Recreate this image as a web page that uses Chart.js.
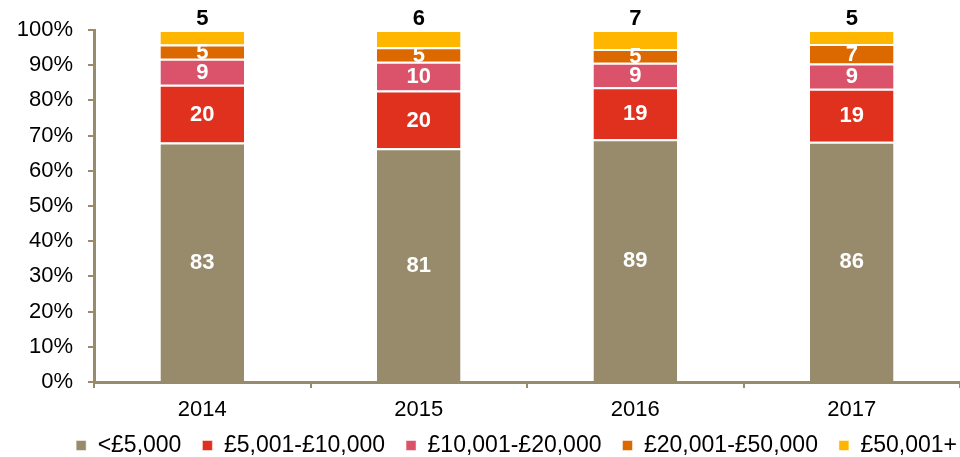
<!DOCTYPE html>
<html>
<head>
<meta charset="utf-8">
<script src="https://cdn.jsdelivr.net/npm/chart.js@4"></script>
<style>
  html, body { margin: 0; padding: 0; background: #fff; }
  #wrap { width: 960px; height: 457px; }
</style>
</head>
<body>
<div id="wrap"><canvas id="chart"></canvas></div>
<script>
'use strict';

const years = ['2014', '2015', '2016', '2017'];
const bandNames = ['<£5,000', '£5,001-£10,000', '£10,001-£20,000', '£20,001-£50,000', '£50,001+'];
const under5k = [83, 81, 89, 86];
const from5kTo10k = [20, 20, 19, 19];
const from10kTo20k = [9, 10, 9, 9];
const from20kTo50k = [5, 5, 5, 7];
const over50k = [5, 6, 7, 5];
const bandColours = ['#978b6b', '#e0301e', '#db536a', '#dc6900', '#ffb600'];
const yTicks = [0, 10, 20, 30, 40, 50, 60, 70, 80, 90, 100];

const counts = [under5k, from5kTo10k, from10kTo20k, from20kTo50k, over50k];
const totals = years.map((_, i) => counts.reduce((s, c) => s + c[i], 0));

const axisColour = '#978b6b';
const font = 'Arial, "Liberation Sans", sans-serif';

// ラベル描画: 最上段だけ棒の上に黒で、他は区間の中央に白で
const segmentLabels = {
    id: 'segmentLabels',
    afterDatasetsDraw(chart)
    {
        const ctx = chart.ctx;
        ctx.save();
        ctx.font = `bold 22px ${font}`;
        ctx.textAlign = 'center';
        ctx.textBaseline = 'middle';
        chart.data.datasets.forEach((ds, di) => {
            const meta = chart.getDatasetMeta(di);
            meta.data.forEach((bar, i) => {
                const text = String(ds.counts[i]);
                if (di === chart.data.datasets.length - 1) {
                    ctx.fillStyle = '#000';
                    ctx.fillText(text, bar.x, bar.y - 11);
                } else {
                    ctx.fillStyle = '#fff';
                    ctx.fillText(text, bar.x, (bar.y + bar.base) / 2 + 1);
                }
            });
        });
        ctx.restore();
    },
};

// 凡例: 項目の間隔は広く、縦位置だけ上に詰める
const legendShift = {
    id: 'legendShift',
    beforeLayout(chart)
    {
        const lg = chart.legend;
        if (!lg || lg._shifted)
            return;
        lg._shifted = true;
        const draw = lg.draw;
        lg.draw = function () {
            const top = this.top, right = this.right;
            this.top -= 15;
            this.right += 14;
            draw.call(this);
            this.top = top;
            this.right = right;
        };
    },
};

const datasets = counts.map((c, k) => ({
    label: bandNames[k],
    data: c.map((v, i) => v / totals[i] * 100),
    counts: c,
    backgroundColor: bandColours[k],
    borderColor: '#fff',
    borderWidth: { top: 2, bottom: 0, left: 0, right: 0 },
    borderSkipped: false,
    categoryPercentage: 1,
    barPercentage: 0.386,
}));

new Chart(document.getElementById('chart'), {
    type: 'bar',
    data: { labels: years, datasets },
    plugins: [segmentLabels, legendShift],
    options: {
        responsive: true,
        maintainAspectRatio: false,
        animation: false,
        layout: { padding: { top: 30, right: -4, left: 0, bottom: -25 } },
        plugins: {
            tooltip: { enabled: false },
            legend: {
                position: 'bottom',
                align: 'end',
                labels: {
                    boxWidth: 10,
                    boxHeight: 10,
                    padding: 21,
                    color: '#000',
                    font: { family: font, size: 23 },
                },
            },
        },
        scales: {
            x: {
                stacked: true,
                grid: {
                    drawOnChartArea: false,
                    offset: true,
                    color: axisColour,
                    tickLength: 6,
                    lineWidth: 2,
                },
                border: { color: axisColour, width: 3 },
                ticks: { color: '#000', font: { family: font, size: 22 }, padding: 9 },
                afterFit(s) { s.height = 46; },
            },
            y: {
                stacked: true,
                min: 0,
                max: 100,
                afterBuildTicks(s) { s.ticks = yTicks.map(v => ({ value: v })); },
                grid: {
                    drawOnChartArea: false,
                    color: axisColour,
                    tickLength: 6,
                    lineWidth: 2,
                },
                border: { color: axisColour, width: 3 },
                ticks: {
                    color: '#000',
                    font: { family: font, size: 22 },
                    padding: 15,
                    callback: v => v + '%',
                },
                afterFit(s) { s.width = 94; },
            },
        },
    },
});
</script>
</body>
</html>
